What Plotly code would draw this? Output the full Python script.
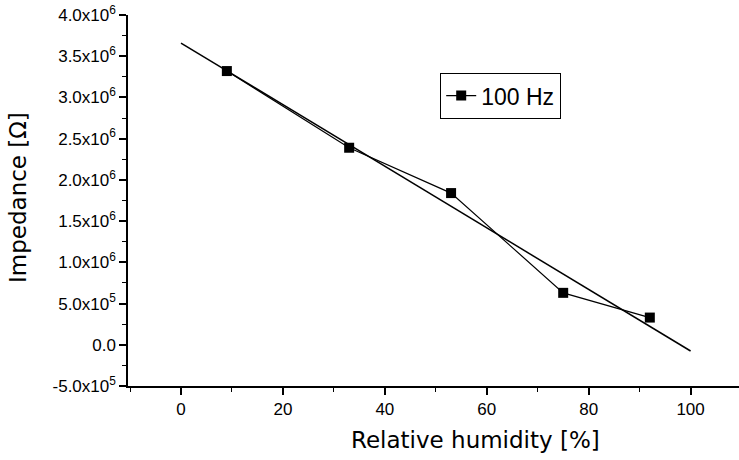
import numpy as np
import plotly.graph_objects as go

# Data
humidity = [9, 33, 53, 75, 92]                      # Relative humidity [%]
impedance = [3.32e6, 2.39e6, 1.84e6, 0.63e6, 0.33e6]  # Impedance [Ohm]
series_name = "100 Hz"

# Linear fit line drawn from x=0 to x=100
fit_x = [0, 100]
slope, intercept = np.polyfit(humidity, impedance, 1)
fit_y = [slope * v + intercept for v in fit_x]

y_tick_vals = [-5e5, 0, 5e5, 1e6, 1.5e6, 2e6, 2.5e6, 3e6, 3.5e6, 4e6]
y_tick_text = ["-5.0x10<sup>5</sup>", "0.0", "5.0x10<sup>5</sup>",
               "1.0x10<sup>6</sup>", "1.5x10<sup>6</sup>", "2.0x10<sup>6</sup>",
               "2.5x10<sup>6</sup>", "3.0x10<sup>6</sup>", "3.5x10<sup>6</sup>",
               "4.0x10<sup>6</sup>"]
x_tick_vals = [0, 20, 40, 60, 80, 100]
x_tick_text = ["0", "20", "40", "60", "80", "100"]

fig = go.Figure()
fig.add_trace(go.Scatter(
    x=fit_x, y=fit_y, mode="lines",
    line=dict(color="black", width=1.5),
    showlegend=False, hoverinfo="skip"))
fig.add_trace(go.Scatter(
    x=humidity, y=impedance, mode="lines+markers", name=series_name,
    line=dict(color="black", width=1.2),
    marker=dict(symbol="square", size=10, color="black")))

tick_font = dict(family="Liberation Sans, Arial, sans-serif", size=17, color="black")
title_font = dict(family="DejaVu Sans, sans-serif", size=23, color="black")

fig.update_layout(
    width=739, height=460,
    margin=dict(l=128, r=0, t=15, b=74, autoexpand=False),
    paper_bgcolor="white", plot_bgcolor="white",
    showlegend=True,
    legend=dict(x=(440 - 128) / 611, y=0.844, xanchor="left", yanchor="top",
                bordercolor="black", borderwidth=1.2, bgcolor="white",
                font=dict(family="Liberation Sans, Arial, sans-serif", size=23, color="black"),
                itemwidth=30),
    xaxis=dict(range=[-10.4, 109.5], tickmode="array", tickvals=x_tick_vals,
               ticktext=x_tick_text, ticks="outside", ticklen=7, tickwidth=1.5,
               tickcolor="black", showline=True, linecolor="black", linewidth=1.5,
               showgrid=False, zeroline=False, tickfont=tick_font, automargin=False,
               minor=dict(tickmode="linear", tick0=0, dtick=10, ticks="outside",
                          ticklen=4, tickwidth=1.2, tickcolor="black", showgrid=False)),
    yaxis=dict(range=[-5e5, 4e6], tickmode="array", tickvals=y_tick_vals,
               ticktext=y_tick_text, ticks="outside", ticklen=7, tickwidth=1.5,
               tickcolor="black", showline=True, linecolor="black", linewidth=1.5,
               showgrid=False, zeroline=False, tickfont=tick_font, automargin=False,
               minor=dict(tickmode="linear", tick0=0, dtick=2.5e5, ticks="outside",
                          ticklen=4, tickwidth=1.2, tickcolor="black", showgrid=False)),
    annotations=[
        dict(text="Relative humidity [%]", xref="paper", yref="paper",
             x=(475 - 128) / 611, y=-(440 - 386) / 371, xanchor="center", yanchor="middle",
             showarrow=False, font=title_font),
        dict(text="Impedance [Ω]", xref="paper", yref="paper",
             x=(18 - 128) / 611, y=(386 - 198) / 371, xanchor="center", yanchor="middle",
             textangle=-90, showarrow=False, font=title_font),
    ],
)

fig.write_html(
    "out.html",
    config={"displayModeBar": False},
    post_script="document.body.style.margin='0';document.body.style.padding='0';"
                "document.body.style.overflow='hidden';"
                "document.documentElement.style.overflow='hidden';",
)
